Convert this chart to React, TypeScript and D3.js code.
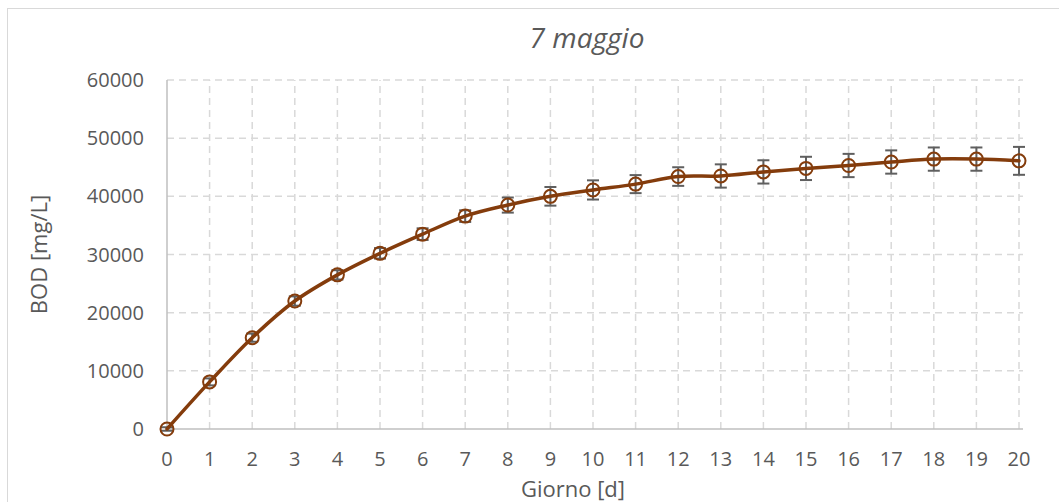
import React from "react";
import * as d3 from "d3";

// BOD measurements, one per day
const days = [0, 1, 2, 3, 4, 5, 6, 7, 8, 9, 10, 11, 12, 13, 14, 15, 16, 17, 18, 19, 20];
const bod = [0, 8100, 15700, 22000, 26500, 30200, 33500, 36600, 38500, 40000, 41100, 42100, 43400, 43500, 44200, 44800, 45300, 45900, 46400, 46400, 46100];
const bodErr = [300, 600, 700, 800, 800, 900, 1000, 1000, 1300, 1600, 1650, 1550, 1600, 2000, 2000, 2000, 2000, 2000, 2000, 2000, 2400];
const yTicks = [0, 10000, 20000, 30000, 40000, 50000, 60000];

const W = 1059;
const H = 502;
const M = { left: 167, right: 1019, top: 80, bottom: 429 };
const FONT = "'Open Sans', 'Noto Sans', sans-serif";
const TEXT = "#595959";
const LINE = "#843C0C";

export default function App() {
  const x = d3.scaleLinear().domain([0, 20]).range([M.left, M.right]);
  const y = d3.scaleLinear().domain([0, 60000]).range([M.bottom, M.top]);

  const line = d3
    .line<number>()
    .x((_, i) => x(days[i]))
    .y((v) => y(v))
    .curve(d3.curveCatmullRom.alpha(0.5));

  return (
    <svg
      width={W}
      height={H}
      style={{ position: "absolute", left: 0, top: 0, background: "#fff" }}
    >
      {/* chart area frame */}
      <rect x={7.5} y={8.5} width={W + 10} height={H + 10} fill="#fff" stroke="#D9D9D9" strokeWidth={1} />

      {/* title */}
      <text
        x={587}
        y={48}
        textAnchor="middle"
        fontFamily={FONT}
        fontStyle="italic"
        fontSize={28}
        fill={TEXT}
      >
        7 maggio
      </text>

      {/* horizontal gridlines */}
      {yTicks.slice(1).map((t) => (
        <line
          key={"hy" + t}
          x1={x(0)}
          x2={x(20) + 4}
          y1={y(t)}
          y2={y(t)}
          stroke="#D9D9D9"
          strokeWidth={1.5}
          strokeDasharray="7,5"
        />
      ))}
      {/* vertical gridlines */}
      {days.slice(1).map((d) => (
        <line
          key={"vx" + d}
          x1={x(d)}
          x2={x(d)}
          y1={y(0)}
          y2={y(60000)}
          stroke="#D9D9D9"
          strokeWidth={1.5}
          strokeDasharray="7,5"
        />
      ))}

      {/* axes */}
      <line x1={x(0)} x2={x(0)} y1={y(0)} y2={y(60000)} stroke="#BFBFBF" strokeWidth={1.5} />
      <line x1={x(0)} x2={x(20) + 4} y1={y(0)} y2={y(0)} stroke="#BFBFBF" strokeWidth={1.5} />

      {/* y tick labels */}
      {yTicks.map((t) => (
        <text
          key={"yl" + t}
          x={144}
          y={y(t)}
          dy="0.35em"
          textAnchor="end"
          fontFamily={FONT}
          fontSize={20}
          fill={TEXT}
        >
          {t}
        </text>
      ))}
      {/* x tick labels */}
      {days.map((d) => (
        <text
          key={"xl" + d}
          x={x(d)}
          y={466}
          textAnchor="middle"
          fontFamily={FONT}
          fontSize={20}
          fill={TEXT}
        >
          {d}
        </text>
      ))}

      {/* axis titles */}
      <text x={573} y={497} textAnchor="middle" fontFamily={FONT} fontSize={22} fill={TEXT}>
        Giorno [d]
      </text>
      <text
        transform={`translate(47, ${(M.top + M.bottom) / 2}) rotate(-90)`}
        textAnchor="middle"
        fontFamily={FONT}
        fontSize={22}
        fill={TEXT}
      >
        BOD [mg/L]
      </text>

      {/* error bars */}
      {bod.map((v, i) => {
        const cx = x(days[i]);
        const lo = y(v - bodErr[i]);
        const hi = y(v + bodErr[i]);
        return (
          <g key={"eb" + i} stroke="#5F5F5F" strokeWidth={2}>
            <line x1={cx} x2={cx} y1={lo} y2={hi} />
            <line x1={cx - 6} x2={cx + 6} y1={lo} y2={lo} />
            <line x1={cx - 6} x2={cx + 6} y1={hi} y2={hi} />
          </g>
        );
      })}

      {/* smoothed BOD curve */}
      <path d={line(bod) || ""} fill="none" stroke={LINE} strokeWidth={3.5} strokeLinecap="round" />

      {/* markers */}
      {bod.map((v, i) => (
        <circle
          key={"m" + i}
          cx={x(days[i])}
          cy={y(v)}
          r={6.5}
          fill="none"
          stroke={LINE}
          strokeWidth={2}
        />
      ))}
    </svg>
  );
}
